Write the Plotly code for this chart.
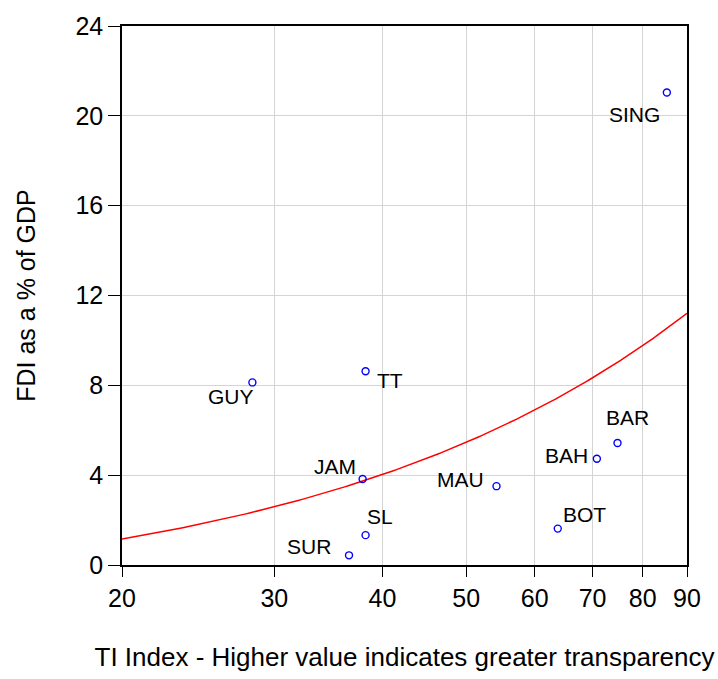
import numpy as np
import plotly.graph_objects as go

countries = ["GUY", "TT", "SING", "BAR", "BAH", "MAU", "BOT", "JAM", "SL", "SUR"]
ti_index = [28.3, 38.25, 85.3, 74.8, 70.8, 54.2, 63.8, 37.95, 38.25, 36.6]
fdi_gdp = [8.13, 8.63, 21.04, 5.43, 4.73, 3.51, 1.62, 3.83, 1.33, 0.43]

x_ticks = [20, 30, 40, 50, 60, 70, 80, 90]
y_ticks = [0, 4, 8, 12, 16, 20, 24]

# label offsets in pixels (dx, dy; dy positive = down) relative to each point
label_offsets = {
    "GUY": (-21, 14), "TT": (24, 9), "SING": (-32, 22), "BAR": (10, -26),
    "BAH": (-30, -3), "MAU": (-36, -7), "BOT": (27, -14), "JAM": (-28, -12),
    "SL": (14, -19), "SUR": (-40, -9),
}

# OLS fit line (linear in x) shown on log x axis
slope, intercept = np.polyfit(ti_index, fdi_gdp, 1)
xf = np.linspace(20, 90, 200)
yf = intercept + slope * xf

FONT = "Liberation Sans, Arial, sans-serif"

fig = go.Figure()
fig.add_trace(go.Scatter(x=xf, y=yf, mode="lines",
                         line=dict(color="#ff0000", width=1.5),
                         hoverinfo="skip", showlegend=False))
fig.add_trace(go.Scatter(x=ti_index, y=fdi_gdp, mode="markers",
                         marker=dict(symbol="circle-open", size=7, color="#0000ff",
                                     line=dict(width=1.4, color="#0000ff")),
                         text=countries, showlegend=False))

for c, x, y in zip(countries, ti_index, fdi_gdp):
    dx, dy = label_offsets[c]
    fig.add_annotation(x=np.log10(x), y=y, text=c, showarrow=False,
                       xshift=dx, yshift=-dy,
                       font=dict(family=FONT, size=21, color="black"))

fig.update_layout(
    width=718, height=679,
    margin=dict(l=122, r=31, t=22, b=111),
    paper_bgcolor="white", plot_bgcolor="white",
    font=dict(family=FONT, color="black"),
    xaxis=dict(type="log", range=[np.log10(20), np.log10(90)],
               tickvals=x_ticks, ticktext=[str(v) for v in x_ticks],
               tickfont=dict(size=25), ticks="outside", ticklen=10, tickcolor="black",
               tickwidth=1.2,
               showline=True, linecolor="black", linewidth=1.5, mirror=True,
               showgrid=True, gridcolor="#d4d4d4", gridwidth=1.3, zeroline=False,
               title=dict(text="TI Index - Higher value indicates greater transparency",
                          font=dict(size=26), standoff=37)),
    yaxis=dict(range=[0, 24], tickvals=y_ticks,
               tickfont=dict(size=25), ticks="outside", ticklen=12, tickcolor="black",
               tickwidth=1.2,
               showline=True, linecolor="black", linewidth=1.5, mirror=True,
               showgrid=True, gridcolor="#d4d4d4", gridwidth=1.3, zeroline=False,
               title=dict(text="FDI as a % of GDP", font=dict(size=25), standoff=33)),
)

fig.write_html("out.html")
